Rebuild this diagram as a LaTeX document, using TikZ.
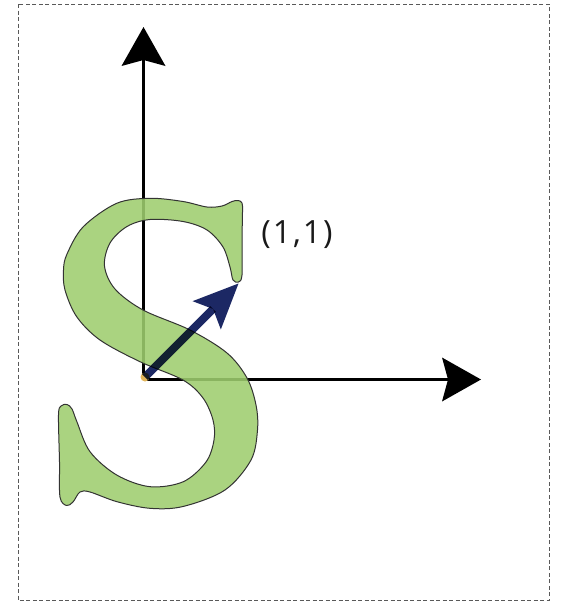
\documentclass[tikz,border=0pt]{standalone}
\usepackage{fontspec}
\newfontfamily\labelfont{Open Sans}[LetterSpace=6]
\usetikzlibrary{arrows.meta}
\definecolor{sgreen}{RGB}{158,205,110}
\definecolor{navyblue}{RGB}{28,40,100}
\definecolor{dotgold}{RGB}{225,180,90}
\begin{document}
\begin{tikzpicture}[x=1pt,y=-1pt,
  frame/.style={draw=black!65, line width=1pt, dash pattern=on 4pt off 2.5pt},
  axis/.style={line width=3.2pt, -{Stealth[length=39pt,width=44pt,inset=6pt,line width=0pt]}},
  vec/.style={navyblue, line width=8pt, -{Stealth[length=45pt,width=40pt,inset=9pt,line width=0pt]}},
  letter/.style={fill=sgreen, fill opacity=0.88, draw=black!80, line width=1pt, line join=round},
  lbl/.style={font=\labelfont\fontsize{32}{38}\selectfont, text=black!90, inner sep=0pt, anchor=base}]
\useasboundingbox (0,0) rectangle (564,605);
\draw[frame] (18,4) rectangle (549,600);
% axes
\coordinate (O) at (143.5,379.5);
\coordinate (Y) at (143.5,27);
\coordinate (X) at (481,379.5);
\draw[axis] (O) -- (Y);
\draw[axis] (O) -- (X);
% the letter S
\draw[letter] plot[smooth cycle, tension=0.55] coordinates {
 (242,203) (242.5,212) (242,240) (242,275) (238.5,282) (233,280)
 (230,267) (223,247) (207,230) (183,221.5) (150,219.5) (127,226.5)
 (110,243) (104.5,266) (115,289) (143,310) (190,330) (227,353)
 (247,378) (256,405) (257.5,430) (251,460) (225,490)
 (183,506.5) (150,508.3)
 (117,501.7) (90,492) (80,492) (73,502) (66.5,505.5) (60,497)
 (59.5,462) (58.5,415) (61,406) (67,404.5) (72,409) (77,422)
 (90,451.7) (116.7,475) (150,486.7) (183.3,481.7) (206,462) (214,440)
 (213,420) (203,398) (183,380) (140,361.7) (100,340) (76.7,316.7)
 (65,290) (63.5,270) (67,254) (83.3,226.7) (116.7,203.3) (150,198.3)
 (183,201.5) (207,207) (222,206) (232,201.5) (238,200.5)};
% origin dot and vector (multiplied over the letter)
\coordinate (V0) at (145,377);
\coordinate (V1) at (238.5,283.5);
\fill[dotgold] (V0) circle (4.5pt);
\begin{scope}[blend mode=multiply]
\draw[vec] (V0) -- (V1);
\end{scope}
% label
\node[lbl] (L) at (297,243.5) {(1,1)};
\end{tikzpicture}
\end{document}
